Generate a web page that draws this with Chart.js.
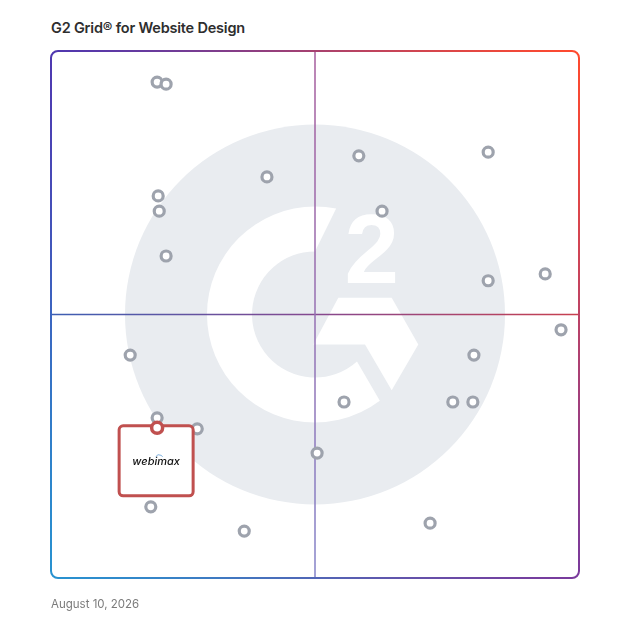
<!DOCTYPE html>
<html lang="en">
<head>
    <meta charset="UTF-8">
    <title>G2 Grid for Website Design</title>
    <script src="https://cdn.jsdelivr.net/npm/chart.js"></script>
    <style>
        body { margin: 0; background: #fff; font-family: Inter, "Open Sans", sans-serif; }
        #wrap { position: relative; width: 628px; height: 628px; }
        #chart { position: absolute; left: 0; top: 0; }
        h1 { position: absolute; left: 51px; top: 19px; margin: 0; font-size: 14.5px; letter-spacing: -0.2px; font-weight: 600; color: #2e2e2e; }
        .date { position: absolute; left: 51px; top: 597px; margin: 0; font-size: 11.5px; color: #7b7b7b; }
    </style>
</head>
<body>
    <div id="wrap">
        <h1>G2 Grid® for Website Design</h1>
        <canvas id="chart" width="628" height="628"></canvas>
        <p class="date">August 10, 2026</p>
    </div>

    <script>
        // x = satisfaction, y = market presence (0-100)
        const satisfaction = [20.1, 21.8, 58.3, 82.8, 40.9, 20.3, 20.5, 62.7, 21.8, 93.6, 82.8, 96.6,
                              15.0, 80.1, 55.5, 76.1, 79.9, 20.1, 27.7, 50.4, 18.9, 71.8, 36.6];
        const marketPresence = [94.1, 93.7, 80.1, 80.8, 76.1, 72.5, 69.6, 69.6, 61.1, 57.7, 56.4, 47.1,
                                42.3, 42.3, 33.4, 33.4, 33.4, 30.4, 28.3, 23.7, 13.5, 10.4, 8.9];
        const highlightName = ["webimax"];
        const highlightX = [20.1];
        const highlightY = [28.5];

        const deg = Math.PI / 180;

        const g2Plugin = {
            id: "g2Grid",
            beforeDatasetsDraw(chart) {
                const { ctx, chartArea: a, scales: { x, y } } = chart;
                const cx = (a.left + a.right) / 2, cy = (a.top + a.bottom) / 2;
                const s = a.width / 528;
                ctx.save();

                // watermark logo
                ctx.fillStyle = "#e9ecf0";
                ctx.beginPath();
                ctx.arc(cx, cy, 190 * s, 0, Math.PI * 2);
                ctx.fill();
                ctx.fillStyle = "#fff";
                ctx.beginPath();
                ctx.arc(cx, cy, 108 * s, -78.7 * deg, 53.1 * deg, true);
                ctx.arc(cx, cy, 63 * s, 48.2 * deg, -90 * deg, false);
                ctx.closePath();
                ctx.fill();
                const chev = [[23.3, -16.7], [76.7, -16.7], [103.3, 30], [76.7, 75.7], [50, 30], [-1.7, 30]];
                ctx.beginPath();
                chev.forEach(([px, py], i) => {
                    if (i === 0) ctx.moveTo(cx + px * s, cy + py * s);
                    else ctx.lineTo(cx + px * s, cy + py * s);
                });
                ctx.closePath();
                ctx.fill();
                ctx.font = `bold ${98 * s}px "Liberation Sans"`;
                ctx.textAlign = "center";
                ctx.textBaseline = "alphabetic";
                ctx.fillText("2", cx + 56.7 * s, cy - 31.7 * s);

                // quadrant lines
                const mx = x.getPixelForValue(50), my = y.getPixelForValue(50);
                ctx.lineWidth = 1.5;
                let g = ctx.createLinearGradient(a.left, 0, a.right, 0);
                g.addColorStop(0, "#3d5fb3");
                g.addColorStop(0.5, "#85488f");
                g.addColorStop(1, "#c8404f");
                ctx.strokeStyle = g;
                ctx.beginPath();
                ctx.moveTo(a.left, my);
                ctx.lineTo(a.right, my);
                ctx.stroke();
                g = ctx.createLinearGradient(0, a.top, 0, a.bottom);
                g.addColorStop(0, "#a65c9c");
                g.addColorStop(1, "#8483c8");
                ctx.strokeStyle = g;
                ctx.beginPath();
                ctx.moveTo(mx, a.top);
                ctx.lineTo(mx, a.bottom);
                ctx.stroke();

                // frame
                g = ctx.createConicGradient(-135 * deg, cx, cy);
                g.addColorStop(0, "#4f38b0");
                g.addColorStop(0.25, "#ff4a2e");
                g.addColorStop(0.5, "#7a3a9c");
                g.addColorStop(0.75, "#2892d0");
                g.addColorStop(1, "#4f38b0");
                ctx.strokeStyle = g;
                ctx.lineWidth = 2;
                ctx.beginPath();
                ctx.roundRect(a.left, a.top, a.width, a.height, 7);
                ctx.stroke();
                ctx.restore();
            },
            afterDatasetDraw(chart, args) {
                if (args.index !== 0) return;
                const { ctx, scales: { x, y } } = chart;
                const hx = x.getPixelForValue(highlightX[0]);
                const hy = y.getPixelForValue(highlightY[0]);
                ctx.save();
                ctx.fillStyle = "#fff";
                ctx.strokeStyle = "#c0504f";
                ctx.lineWidth = 3;
                ctx.beginPath();
                ctx.roundRect(hx - 38, hy - 2, 74, 70, 4);
                ctx.fill();
                ctx.stroke();
                ctx.fillStyle = "#111";
                ctx.font = "italic 500 11px Inter";
                ctx.textAlign = "center";
                ctx.textBaseline = "middle";
                ctx.fillText(highlightName[0], hx - 1, hy + 34);
                ctx.strokeStyle = "#7fb2e0";
                ctx.lineWidth = 1;
                ctx.beginPath();
                ctx.arc(hx + 2, hy + 31, 4, -150 * deg, -30 * deg);
                ctx.stroke();
                ctx.restore();
            }
        };

        const ctx = document.getElementById("chart").getContext("2d");
        const chart = new Chart(ctx, {
            type: "scatter",
            data: {
                datasets: [{
                    label: "Products",
                    data: satisfaction.map((v, i) => ({ x: v, y: marketPresence[i] })),
                    pointRadius: 5,
                    pointBorderWidth: 3.2,
                    borderColor: "#9ea3ad",
                    backgroundColor: "#fff",
                    order: 2
                }, {
                    label: highlightName[0],
                    data: highlightX.map((v, i) => ({ x: v, y: highlightY[i] })),
                    pointRadius: 5.5,
                    pointBorderWidth: 3.5,
                    borderColor: "#c0504f",
                    backgroundColor: "#fff",
                    order: 1
                }]
            },
            options: {
                responsive: false,
                animation: false,
                layout: { padding: { left: 51, top: 51, right: 49, bottom: 50 } },
                scales: {
                    x: { display: false, min: 0, max: 100 },
                    y: { display: false, min: 0, max: 100 }
                },
                plugins: {
                    legend: { display: false },
                    tooltip: { enabled: false }
                }
            },
            plugins: [g2Plugin]
        });
    </script>
</body>
</html>
